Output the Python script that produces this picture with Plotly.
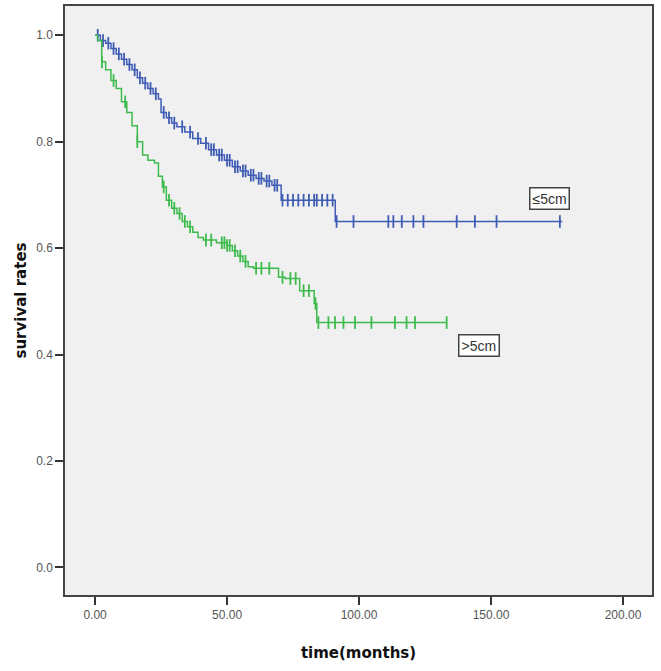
import numpy as np
import plotly.graph_objects as go

# Kaplan-Meier step data, tumour size <=5cm
blue_t = [0, 2, 4, 6, 8, 10, 12, 14, 16, 18, 20, 22, 24, 25, 27, 29, 31, 34, 37, 40, 43,
          46, 49, 52, 55, 58, 61, 64, 67, 70.5, 91, 177]
blue_s = [1.0, 0.99, 0.985, 0.975, 0.965, 0.955, 0.945, 0.935, 0.92, 0.91, 0.9, 0.89, 0.88,
          0.855, 0.845, 0.835, 0.828, 0.818, 0.806, 0.797, 0.785, 0.775, 0.765, 0.753, 0.745,
          0.737, 0.731, 0.726, 0.718, 0.69, 0.65, 0.65]
blue_cens = [1, 3, 5, 7, 9, 11, 13, 15, 17, 19, 21, 23, 26, 28, 30, 33, 36, 39, 42, 44, 45, 47,
             48, 50, 51, 53, 54, 56, 57, 59, 60, 62, 63, 65, 66, 68, 69, 71, 73, 75, 77, 79, 81,
             83, 84, 86, 88, 90, 91.5, 97.9, 111.1, 113, 116.2, 120.6, 124.4, 137, 143.9, 152.1,
             176.1]

# Kaplan-Meier step data, tumour size >5cm
green_t = [0, 1, 2.5, 4, 6, 8, 10, 12, 14, 16, 18, 20, 22.5, 24, 25.5, 27, 29, 31, 33, 35, 37,
           39, 41, 46, 50, 52, 54, 56, 58, 60, 69.5, 72, 77.5, 83, 84, 133]
green_s = [1.0, 0.99, 0.95, 0.935, 0.915, 0.9, 0.875, 0.855, 0.83, 0.8, 0.775, 0.765, 0.76,
           0.735, 0.715, 0.69, 0.675, 0.665, 0.65, 0.64, 0.63, 0.62, 0.615, 0.61, 0.605, 0.595,
           0.585, 0.575, 0.565, 0.562, 0.545, 0.543, 0.52, 0.496, 0.46, 0.46]
green_cens = [2.6, 7, 11.4, 16, 26, 28, 30, 32, 34, 36, 42, 44, 48, 49, 50, 51, 53, 55, 57,
              61, 63, 66, 71, 74, 76, 79, 81, 83.5, 84.6, 88.4, 90.9, 94.1, 98.5, 104.7, 113.6,
              118, 121.2, 133.2]

x_ticks = [0, 50, 100, 150, 200]
x_labels = ["0.00", "50.00", "100.00", "150.00", "200.00"]
y_ticks = [0.0, 0.2, 0.4, 0.6, 0.8, 1.0]
y_labels = ["0.0", "0.2", "0.4", "0.6", "0.8", "1.0"]

labels = ["≤5cm", ">5cm"]
label_pos = [(172, 0.694), (145.5, 0.417)]

BLUE = "#3f5cb5"
GREEN = "#3dbb4c"


def km_value(times, surv, t):
    idx = np.searchsorted(np.array(times), np.array(t), side="right") - 1
    return np.array(surv)[idx]


fig = go.Figure()
for t, s, c, col in [(blue_t, blue_s, blue_cens, BLUE), (green_t, green_s, green_cens, GREEN)]:
    fig.add_trace(go.Scatter(x=t, y=s, mode="lines", line=dict(color=col, width=1.5, shape="hv"),
                             showlegend=False, hoverinfo="skip"))
    fig.add_trace(go.Scatter(x=c, y=km_value(t, s, c), mode="markers",
                             marker=dict(symbol="line-ns", size=9,
                                         line=dict(color=col, width=1.8)),
                             showlegend=False))

for lab, (lx, ly) in zip(labels, label_pos):
    fig.add_annotation(x=lx, y=ly, text=lab, showarrow=False,
                       font=dict(family="Liberation Sans, Arial", size=14, color="#333"),
                       bgcolor="white", bordercolor="#444", borderwidth=1.5, borderpad=2)

fig.update_layout(
    width=661, height=671,
    margin=dict(l=65, r=9, t=6, b=76),
    paper_bgcolor="white", plot_bgcolor="#f0f0f0",
    font=dict(family="Liberation Sans, Arial", color="#555"),
)
fig.update_xaxes(range=[-11.4, 211], tickvals=x_ticks, ticktext=x_labels, automargin=False,
                 ticks="outside", ticklen=8, tickwidth=1.5, tickcolor="#333",
                 tickfont=dict(size=12, color="#555"),
                 showgrid=False, zeroline=False, showline=True, linecolor="#444", linewidth=1.5,
                 mirror=True,
                 title=dict(text="<b>time(months)</b>", standoff=26,
                            font=dict(family="DejaVu Sans", size=15, color="#111")))
fig.update_yaxes(range=[-0.052, 1.055], tickvals=y_ticks, ticktext=y_labels, automargin=False,
                 ticks="outside", ticklen=8, tickwidth=1.5, tickcolor="#333",
                 tickfont=dict(size=12, color="#555"),
                 showgrid=False, zeroline=False, showline=True, linecolor="#444", linewidth=1.5,
                 mirror=True,
                 title=dict(text="<b>survival rates</b>", standoff=6,
                            font=dict(family="DejaVu Sans", size=15, color="#111")))

fig.write_html("out.html", config={"displayModeBar": False},
               post_script="document.body.style.margin='0px';document.body.style.overflow='hidden';")
